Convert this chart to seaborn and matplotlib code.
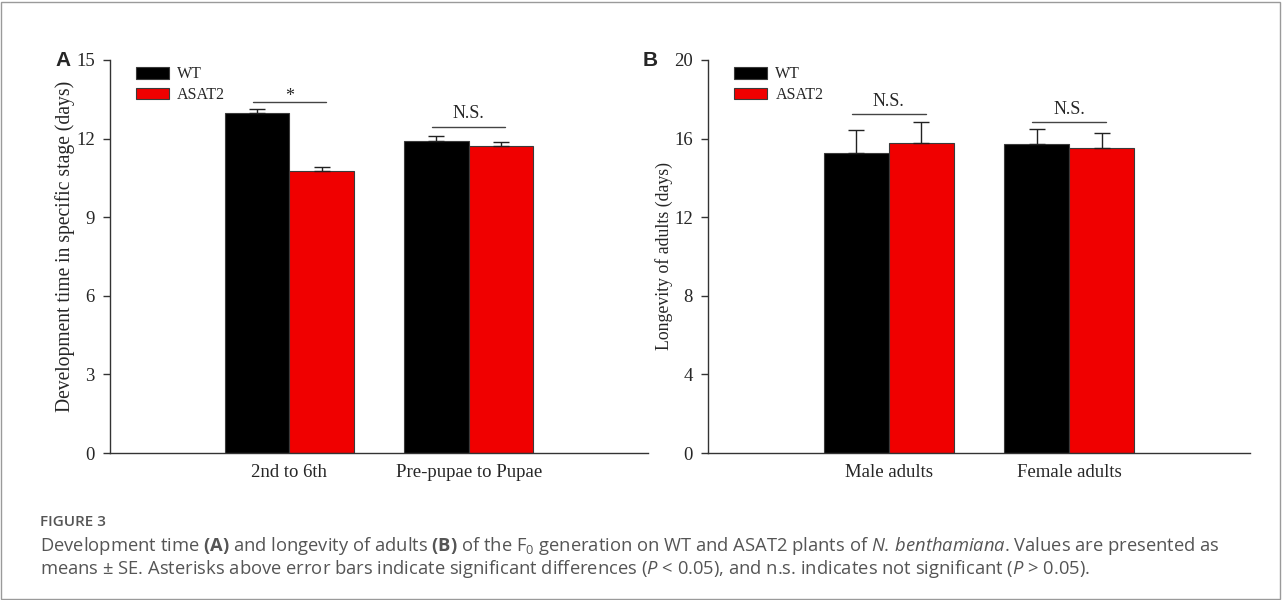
import matplotlib
matplotlib.use("Agg")
import matplotlib.pyplot as plt
import seaborn as sns
import pandas as pd
import numpy as np
from matplotlib.patches import Rectangle

# ---- data ----
groups = ["WT", "ASAT2"]
stages_a = ["2nd to 6th", "Pre-pupae to Pupae"]
wt_a = [12.98, 11.90]
asat2_a = [10.78, 11.70]
se_wt_a = [0.15, 0.19]
se_asat2_a = [0.12, 0.16]
sig_a = ["*", "N.S."]

stages_b = ["Male adults", "Female adults"]
wt_b = [15.28, 15.71]
asat2_b = [15.78, 15.50]
se_wt_b = [1.16, 0.80]
se_asat2_b = [1.04, 0.78]
sig_b = ["N.S.", "N.S."]

yticks_a = [0, 3, 6, 9, 12, 15]
yticks_b = [0, 4, 8, 12, 16, 20]

sns.set_style("white")
plt.rcParams["font.family"] = ["Liberation Serif", "DejaVu Serif"]
plt.rcParams["mathtext.fontset"] = "custom"
plt.rcParams["mathtext.rm"] = "Open Sans"
plt.rcParams["mathtext.it"] = "Open Sans:italic"
plt.rcParams["mathtext.bf"] = "Open Sans:bold"

palette = {"WT": "#000000", "ASAT2": "#f00000"}

fig = plt.figure(figsize=(12.82, 6.0), dpi=100)
W, H = 1282, 600

def px_axes(l, r, t, b):
    return fig.add_axes([l / W, 1 - b / H, (r - l) / W, (b - t) / H])

ax_a = px_axes(110, 648, 60, 453)
ax_b = px_axes(708, 1250, 60, 453)


def draw_panel(ax, cats, wt, asat, se_wt, se_as, yticks, ylabel, ylabel_size,
               ylabel_y, sig, sig_y, txt_y):
    df = pd.DataFrame({
        "stage": cats * 2,
        "group": ["WT"] * len(cats) + ["ASAT2"] * len(cats),
        "value": list(wt) + list(asat),
    })
    sns.barplot(data=df, x="stage", y="value", hue="group", order=cats,
                hue_order=groups, palette=palette, width=0.72, ax=ax,
                edgecolor="#3a3a3a", linewidth=0.8, errorbar=None, saturation=1)
    # error bars (upper only)
    ses = {"WT": se_wt, "ASAT2": se_as}
    for cont, g in zip(ax.containers, groups):
        xs = [p.get_x() + p.get_width() / 2 for p in cont.patches]
        ys = [p.get_height() for p in cont.patches]
        ax.errorbar(xs, ys, yerr=[np.zeros(len(xs)), ses[g]], fmt="none",
                    ecolor="#222222", elinewidth=1.0, capsize=6, capthick=1.0,
                    zorder=3)
    # significance lines
    for i, (s, ly, ty) in enumerate(zip(sig, sig_y, txt_y)):
        ax.plot([i - 0.205, i + 0.205], [ly, ly], color="#444444", lw=1.0)
        ax.text(i, ty, s, ha="center", va="bottom", fontsize=13,
                family=["Liberation Serif"])
    ax.set_xlim(-1, 2)
    ax.set_ylim(yticks[0], yticks[-1])
    ax.set_yticks(yticks)
    ax.set_yticklabels([str(t) for t in yticks], fontsize=13.5)
    ax.set_xticks(range(len(cats)))
    ax.set_xticklabels(cats, fontsize=13.5)
    ax.set_xlabel("")
    ax.set_ylabel(ylabel, fontsize=ylabel_size, labelpad=1)
    ax.yaxis.label.set_y(ylabel_y)
    ax.tick_params(axis="y", which="major", direction="out", length=5,
                   width=1.0, color="#333333", left=True, pad=6)
    ax.tick_params(axis="x", length=0, pad=8)
    for sp in ["top", "right"]:
        ax.spines[sp].set_visible(False)
    for sp in ["left", "bottom"]:
        ax.spines[sp].set_color("#333333")
        ax.spines[sp].set_linewidth(1.0)
    ax.legend(loc="upper left", bbox_to_anchor=(0.036, 1.0), frameon=False,
              fontsize=11.5, handlelength=2.1, handleheight=0.75,
              handletextpad=0.5, labelspacing=0.3, borderaxespad=0)
    return ax


draw_panel(ax_a, stages_a, wt_a, asat2_a, se_wt_a, se_asat2_a, yticks_a,
           "Development time in specific stage (days)", 14.1, 0.527, sig_a,
           [13.4, 12.46], [13.3, 12.62])
draw_panel(ax_b, stages_b, wt_b, asat2_b, se_wt_b, se_asat2_b, yticks_b,
           "Longevity of adults (days)", 12.8, 0.5, sig_b,
           [17.25, 16.86], [17.45, 17.06])

# panel letters
fig.text(55 / W, 1 - 60 / H, "A", fontsize=15, fontweight="bold",
         family=["Liberation Sans", "DejaVu Sans"], va="center", ha="left")
fig.text(643 / W, 1 - 60 / H, "B", fontsize=15, fontweight="bold",
         family=["Liberation Sans", "DejaVu Sans"], va="center", ha="left")

# caption
cap_color = "#555555"
fig.text(40 / W, 1 - 522 / H, "FIGURE 3", fontsize=11, color=cap_color,
         fontweight="semibold",
         family=["Open Sans", "DejaVu Sans"], va="center", ha="left")
line1 = (r"Development time $\mathbf{(A)}$ and longevity of adults $\mathbf{(B)}$ of the F$_0$ "
         r"generation on WT and ASAT2 plants of $\mathit{N.\,benthamiana}$. Values are presented as")
line2 = (r"means $\pm$ SE. Asterisks above error bars indicate significant differences "
         r"($\mathit{P}$ < 0.05), and n.s. indicates not significant ($\mathit{P}$ > 0.05).")
fig.text(40 / W, 1 - 546 / H, line1, fontsize=13.2, color=cap_color,
         family=["Open Sans", "DejaVu Sans"], va="center", ha="left")
fig.text(40 / W, 1 - 569 / H, line2, fontsize=13.2, color=cap_color,
         family=["Open Sans", "DejaVu Sans"], va="center", ha="left")

# outer frame
fig.patches.append(Rectangle((1 / W, 1 / H), (W - 3) / W, (H - 3) / H,
                             transform=fig.transFigure, fill=False,
                             edgecolor="#9a9a9a", linewidth=1.0))

fig.savefig("out.png", dpi=100)
